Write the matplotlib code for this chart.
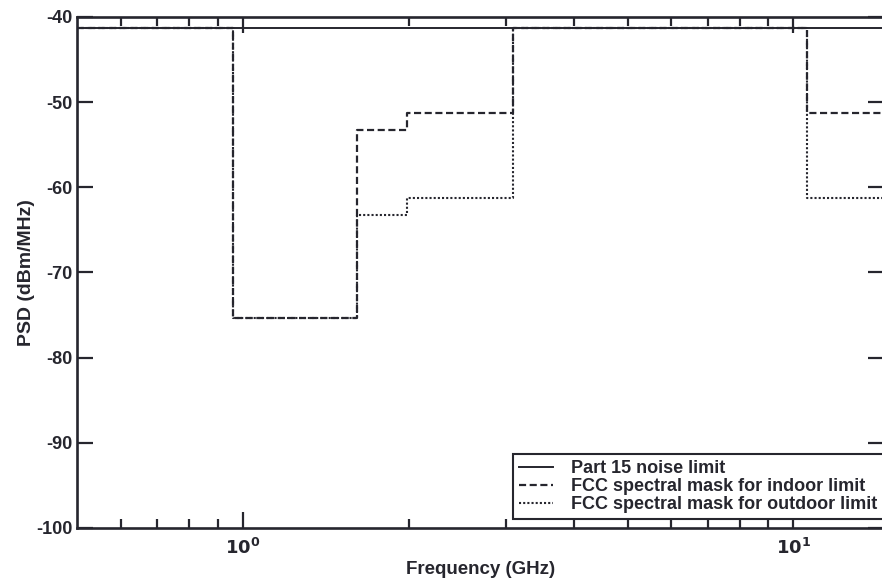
import matplotlib.pyplot as plt
from matplotlib.ticker import FixedLocator, NullFormatter

plt.rcParams['font.family'] = ['Liberation Sans', 'DejaVu Sans']
plt.rcParams['font.weight'] = 'bold'
plt.rcParams['mathtext.default'] = 'bf'

# FCC UWB emission masks (GHz band edges, dBm/MHz levels)
band_edges = [0.5, 0.96, 1.61, 1.99, 3.1, 10.6, 15.0]
indoor_mask = [-41.3, -75.3, -53.3, -51.3, -41.3, -51.3]
outdoor_mask = [-41.3, -75.3, -63.3, -61.3, -41.3, -61.3]
part15_level = -41.3

ink = '#26262e'

fig = plt.figure(figsize=(8.82, 5.83), dpi=100)
ax = fig.add_axes([77 / 882, 1 - 528 / 583, 807 / 882, 511 / 583])
ax.set_xscale('log')

ax.plot([band_edges[0], band_edges[-1]], [part15_level, part15_level],
        color=ink, lw=1.4, ls='-', label='Part 15 noise limit')
ax.step(band_edges, indoor_mask + [indoor_mask[-1]], where='post',
        color=ink, lw=1.6, ls=(0, (3.2, 1.6)), label='FCC spectral mask for indoor limit')
ax.step(band_edges, outdoor_mask + [outdoor_mask[-1]], where='post',
        color=ink, lw=1.5, ls=(0, (1.0, 1.0)), label='FCC spectral mask for outdoor limit')

ax.set_xlim(0.5, 14.6)
ax.set_ylim(-100, -40)
ax.set_yticks([-100, -90, -80, -70, -60, -50, -40])
ax.set_yticklabels(['-100', '-90', '-80', '-70', '-60', '-50', '-40'])
ax.xaxis.set_major_locator(FixedLocator([1, 10]))
ax.set_xticklabels([r'$10^{0}$', r'$10^{1}$'])
ax.xaxis.set_minor_locator(FixedLocator([0.6, 0.7, 0.8, 0.9, 2, 3, 4, 5, 6, 7, 8, 9]))
ax.xaxis.set_minor_formatter(NullFormatter())

ax.tick_params(which='both', direction='in', top=True, right=True, colors=ink,
               labelsize=13, width=1.6)
ax.tick_params(axis='x', which='major', length=11.5, pad=7)
ax.tick_params(axis='x', which='minor', length=6.5)
ax.tick_params(axis='y', which='major', length=11.5, pad=3)
for s in ax.spines.values():
    s.set_linewidth(1.9)
    s.set_color(ink)

ax.set_xlabel('Frequency (GHz)', fontsize=13.5, fontweight='bold', color=ink, labelpad=2)
ax.set_ylabel('PSD (dBm/MHz)', fontsize=14, fontweight='bold', color=ink, labelpad=1)

leg = ax.legend(loc='lower right', bbox_to_anchor=(1.0, 0.017), borderaxespad=0,
                fontsize=13, handlelength=1.9, handletextpad=1.0, labelspacing=0.05,
                borderpad=0.35, fancybox=False, framealpha=1, edgecolor=ink)
leg.get_frame().set_linewidth(1.5)
for t in leg.get_texts():
    t.set_color(ink)
    t.set_fontweight('bold')

fig.savefig('out.png', dpi=100)
